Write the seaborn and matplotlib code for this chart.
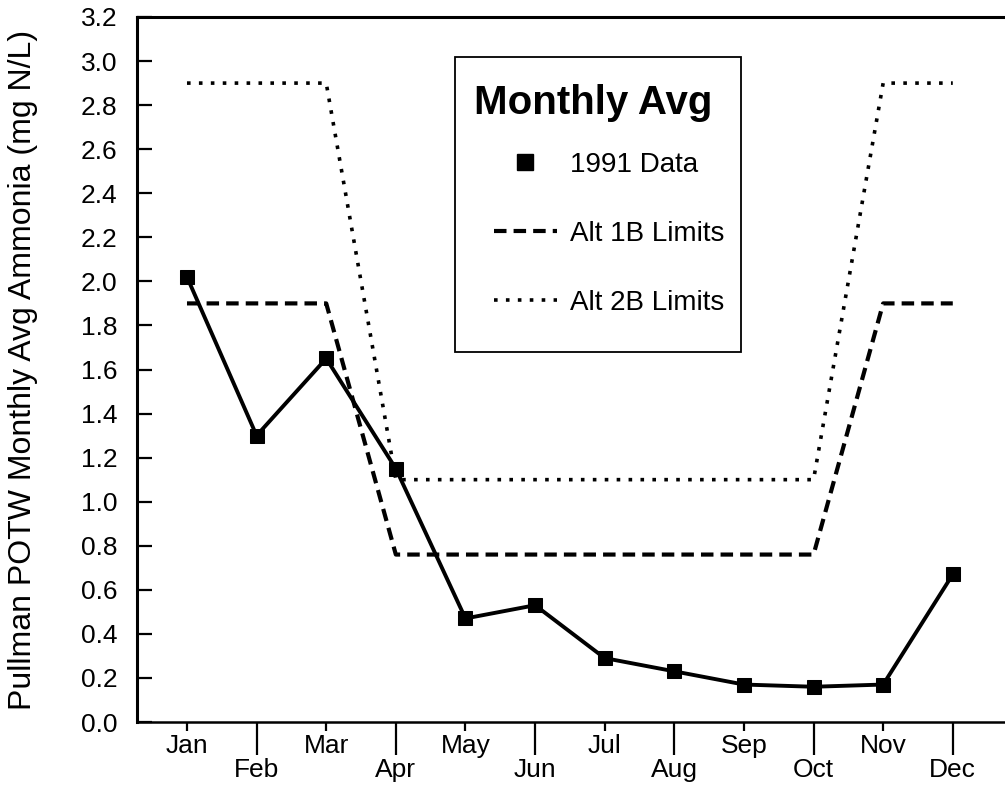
import matplotlib
matplotlib.use("Agg")
import matplotlib.pyplot as plt
from matplotlib.lines import Line2D
from matplotlib.patches import Rectangle
import seaborn as sns
import pandas as pd

months = ["Jan", "Feb", "Mar", "Apr", "May", "Jun",
          "Jul", "Aug", "Sep", "Oct", "Nov", "Dec"]
data_1991 = [2.02, 1.30, 1.65, 1.15, 0.47, 0.53, 0.29, 0.23, 0.17, 0.16, 0.17, 0.67]
alt_1b = [1.90, 1.90, 1.90, 0.76, 0.76, 0.76, 0.76, 0.76, 0.76, 0.76, 1.90, 1.90]
alt_2b = [2.90, 2.90, 2.90, 1.10, 1.10, 1.10, 1.10, 1.10, 1.10, 1.10, 2.90, 2.90]
y_ticks = [0.0, 0.2, 0.4, 0.6, 0.8, 1.0, 1.2, 1.4, 1.6, 1.8, 2.0,
           2.2, 2.4, 2.6, 2.8, 3.0, 3.2]

df = pd.DataFrame({
    "pos": list(range(len(months))),
    "month": months,
    "data": data_1991,
    "alt1b": alt_1b,
    "alt2b": alt_2b,
})

sns.set_theme(style="white")
plt.rcParams["font.family"] = ["Liberation Sans", "DejaVu Sans"]
plt.rcParams["text.color"] = "black"
plt.rcParams["axes.labelcolor"] = "black"
plt.rcParams["xtick.color"] = "black"
plt.rcParams["ytick.color"] = "black"

W, H = 1005, 786
fig = plt.figure(figsize=(W / 100, H / 100), dpi=100)
ax = fig.add_axes([137 / W, 1 - 722 / H, (W - 137) / W, (722 - 17) / H])

# limit curves
sns.lineplot(data=df, x="pos", y="alt2b", ax=ax, color="black", lw=2.6,
             linestyle=(0, (1.0, 2.3)), dash_capstyle="butt")
sns.lineplot(data=df, x="pos", y="alt1b", ax=ax, color="black", lw=3.0,
             linestyle=(0, (3.0, 1.7)))
# measured monthly averages
sns.lineplot(data=df, x="pos", y="data", ax=ax, color="black", lw=2.8,
             marker="s", markersize=10, markeredgecolor="black",
             markerfacecolor="black")

ax.set_xlim(-0.718, 11.75)
ax.set_ylim(0, 3.2)
ax.set_xlabel("")
ax.set_ylabel("Pullman POTW Monthly Avg Ammonia (mg N/L)", fontsize=23)
ax.yaxis.set_label_coords(-0.114, 0.5)

ax.set_yticks(y_ticks)
ax.set_yticklabels([f"{v:.1f}" for v in y_ticks])
ax.tick_params(axis="y", direction="in", length=11, width=1.6,
               labelsize=19, pad=14, left=True, colors="black")

ax.set_xticks(df["pos"][0::2], months[0::2])
ax.set_xticks(df["pos"][1::2], months[1::2], minor=True)
ax.tick_params(axis="x", which="major", direction="out", length=6.5,
               width=1.6, labelsize=19, pad=2, bottom=True, colors="black")
ax.tick_params(axis="x", which="minor", direction="out", length=24,
               width=1.6, labelsize=19, pad=2, bottom=True, colors="black")

for side in ["left", "top", "bottom"]:
    ax.spines[side].set_color("black")
ax.spines["left"].set_linewidth(2.2)
ax.spines["top"].set_linewidth(2.2)
ax.spines["bottom"].set_linewidth(1.8)
ax.spines["right"].set_visible(False)
ax.grid(False)

# legend frame, title and entries
fig.patches.append(Rectangle((455 / W, 1 - 352 / H), (741 - 455) / W,
                             (352 - 57) / H, transform=fig.transFigure,
                             fill=False, edgecolor="black", lw=1.3))
fig.text(593 / W, 1 - 103 / H, "Monthly Avg", fontsize=29, fontweight="bold",
         ha="center", va="center", color="black")
handles = [
    Line2D([], [], color="black", marker="s", markersize=11, linestyle="none"),
    Line2D([], [], color="black", lw=3.0, linestyle=(0, (3.0, 1.7))),
    Line2D([], [], color="black", lw=2.6, linestyle=(0, (1.0, 2.3))),
]
labels = ["1991 Data", "Alt 1B Limits", "Alt 2B Limits"]
leg = ax.legend(handles, labels, loc="upper left", frameon=False, fontsize=20,
                bbox_to_anchor=(494 / W, 1 - 152 / H),
                bbox_transform=fig.transFigure,
                handlelength=2.25, handletextpad=0.5, labelspacing=1.55,
                borderaxespad=0, borderpad=0)
for t in leg.get_texts():
    t.set_color("black")

fig.savefig("out.png", dpi=100)
